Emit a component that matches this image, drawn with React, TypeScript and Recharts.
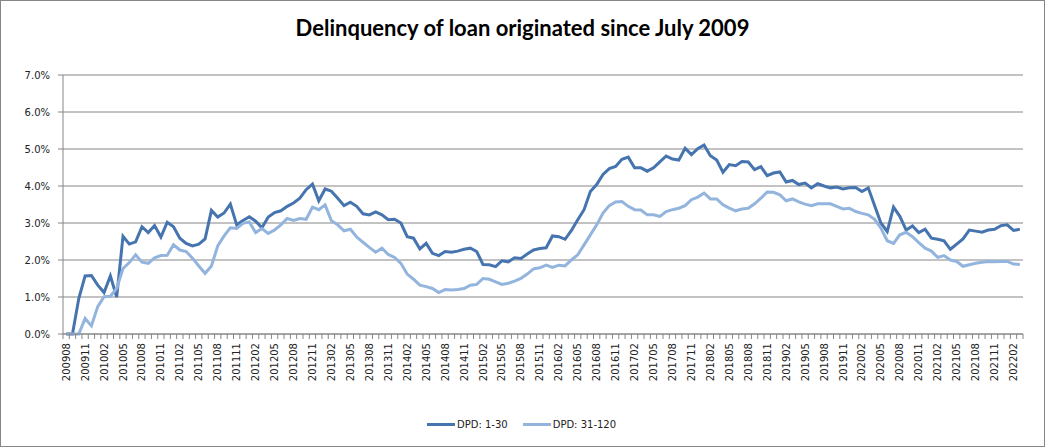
import { LineChart, Line, XAxis, YAxis, CartesianGrid } from 'recharts';

// monthly cohorts 200908 .. 202203
const START_YEAR = 2009;
const START_MONTH = 8;
const N_MONTHS = 152;

const months: string[] = Array.from({ length: N_MONTHS }, (_, i) => {
  const m = START_MONTH - 1 + i;
  const yr = START_YEAR + Math.floor(m / 12);
  const mo = (m % 12) + 1;
  return `${yr}${mo < 10 ? '0' : ''}${mo}`;
});

// values in percent
const dpd1to30 = [
  0, 0, 0.96, 1.57, 1.58, 1.32, 1.12, 1.57, 1.0, 2.64,
  2.43, 2.49, 2.9, 2.74, 2.93, 2.62, 3.02, 2.9, 2.59, 2.45,
  2.38, 2.43, 2.57, 3.34, 3.16, 3.27, 3.51, 2.95, 3.07, 3.17,
  3.05, 2.87, 3.16, 3.28, 3.33, 3.45, 3.54, 3.67, 3.9, 4.05,
  3.6, 3.92, 3.86, 3.67, 3.47, 3.56, 3.45, 3.25, 3.22, 3.3,
  3.22, 3.09, 3.1, 3.0, 2.63, 2.59, 2.3, 2.45, 2.18, 2.12,
  2.23, 2.21, 2.24, 2.29, 2.32, 2.23, 1.88, 1.87, 1.82, 1.98,
  1.95, 2.06, 2.04, 2.16, 2.27, 2.31, 2.33, 2.65, 2.63, 2.56,
  2.8, 3.09, 3.36, 3.85, 4.04, 4.31, 4.47, 4.53, 4.72, 4.78,
  4.49, 4.49, 4.4, 4.49, 4.65, 4.81, 4.73, 4.7, 5.02, 4.85,
  5.01, 5.11, 4.82, 4.7, 4.37, 4.58, 4.55, 4.66, 4.65, 4.44,
  4.52, 4.28, 4.35, 4.38, 4.11, 4.15, 4.04, 4.08, 3.95, 4.06,
  4.0, 3.95, 3.97, 3.92, 3.95, 3.96, 3.85, 3.95, 3.47, 3.0,
  2.77, 3.43, 3.18, 2.81, 2.92, 2.74, 2.83, 2.59, 2.56, 2.52,
  2.29, 2.43, 2.57, 2.81, 2.78, 2.75, 2.81, 2.83, 2.93, 2.95,
  2.8, 2.83,
];

const dpd31to120 = [
  0, 0, 0, 0.42, 0.22, 0.74, 1.01, 1.02, 1.23, 1.77,
  1.93, 2.14, 1.94, 1.91, 2.06, 2.12, 2.13, 2.41, 2.27, 2.23,
  2.05, 1.84, 1.64, 1.84, 2.38, 2.65, 2.87, 2.85, 2.99, 3.03,
  2.74, 2.85, 2.72, 2.81, 2.95, 3.12, 3.07, 3.12, 3.1, 3.43,
  3.36, 3.49, 3.06, 2.95, 2.79, 2.83, 2.62, 2.48, 2.34, 2.21,
  2.32, 2.15, 2.07, 1.91, 1.62, 1.48, 1.32, 1.28, 1.23, 1.12,
  1.2, 1.19, 1.2, 1.23, 1.32, 1.34, 1.5, 1.48, 1.41, 1.34,
  1.37, 1.43, 1.5, 1.62, 1.76, 1.79, 1.86, 1.8, 1.86, 1.84,
  2.0, 2.14, 2.41, 2.68, 2.95, 3.27, 3.47, 3.57, 3.58, 3.45,
  3.36, 3.35, 3.22, 3.22, 3.18, 3.31, 3.36, 3.4, 3.47, 3.63,
  3.7, 3.81, 3.65, 3.65, 3.49, 3.4, 3.33, 3.38, 3.4, 3.52,
  3.67, 3.84, 3.83, 3.76, 3.6, 3.65, 3.57, 3.51, 3.47, 3.52,
  3.52, 3.52, 3.45, 3.38, 3.4, 3.31, 3.26, 3.22, 3.1, 2.86,
  2.52, 2.45, 2.68, 2.75, 2.63, 2.47, 2.32, 2.24, 2.07, 2.12,
  2.0, 1.96, 1.83, 1.87, 1.91, 1.94, 1.96, 1.95, 1.96, 1.96,
  1.89, 1.88,
];

const yTicks = [0, 1, 2, 3, 4, 5, 6, 7];

const data = months.map((m, i) => ({ month: m, a: dpd1to30[i], b: dpd31to120[i] }));

const DARK = '#4674AE';
const LIGHT = '#93B4DD';
const AXIS = '#868686';
const FONT = 'DejaVu Sans, Verdana, sans-serif';

const W = 1045;
const H = 447;
const MARGIN = { top: 75, right: 22, bottom: 33, left: 0 };
const Y_W = 63;
const PLOT_W = W - MARGIN.left - MARGIN.right - Y_W;
const BAND = PLOT_W / N_MONTHS;

const MonthTick = (props: any) => {
  const { x, y, payload } = props;
  const idx = payload?.index ?? props.index ?? 0;
  const half = BAND / 2;
  return (
    <g>
      {idx === 0 && <line x1={x - half} x2={x - half} y1={y} y2={y + 5} stroke={AXIS} />}
      <line x1={x + half} x2={x + half} y1={y} y2={y + 5} stroke={AXIS} />
      {idx % 3 === 0 && (
        <text
          transform={`translate(${x},${y + 9}) rotate(-90)`}
          textAnchor="end"
          dy="0.35em"
          fontSize={10}
          fontFamily={FONT}
          fill="#222"
        >
          {payload.value}
        </text>
      )}
    </g>
  );
};

export default function App() {
  return (
    <div style={{ position: 'absolute', left: 0, top: 0, width: W, height: H, background: '#fff' }}>
      <div
        style={{
          position: 'absolute',
          left: 0,
          top: 15,
          width: W,
          textAlign: 'center',
          fontFamily: 'Lato, sans-serif',
          fontWeight: 700,
          fontSize: 22,
          lineHeight: '26px',
          color: '#000',
        }}
      >
        Delinquency of loan originated since July 2009
      </div>

      <LineChart width={W} height={H} data={data} margin={MARGIN}>
        <CartesianGrid vertical={false} stroke={AXIS} strokeWidth={1} />
        <XAxis
          dataKey="month"
          scale="band"
          interval={0}
          height={80}
          tickSize={0}
          tickMargin={0}
          tickLine={false}
          axisLine={{ stroke: AXIS }}
          tick={<MonthTick />}
        />
        <YAxis
          width={Y_W}
          domain={[0, 7]}
          ticks={yTicks}
          tickFormatter={(v: number) => `${v.toFixed(1)}%`}
          tickSize={5}
          tickMargin={8}
          axisLine={{ stroke: AXIS }}
          tickLine={{ stroke: AXIS }}
          tick={{ fontSize: 10, fontFamily: FONT, fill: '#222' }}
        />
        <Line
          dataKey="a"
          name="DPD: 1-30"
          stroke={DARK}
          strokeWidth={3}
          dot={false}
          isAnimationActive={false}
        />
        <Line
          dataKey="b"
          name="DPD: 31-120"
          stroke={LIGHT}
          strokeWidth={3}
          dot={false}
          isAnimationActive={false}
        />
      </LineChart>

      {/* legend */}
      <div
        style={{
          position: 'absolute',
          top: 419,
          left: 427,
          display: 'flex',
          alignItems: 'center',
          fontFamily: FONT,
          fontSize: 10,
          color: '#222',
        }}
      >
        <span style={{ display: 'inline-block', width: 28, height: 3, background: DARK, marginRight: 2 }} />
        <span style={{ marginRight: 15 }}>DPD: 1-30</span>
        <span style={{ display: 'inline-block', width: 28, height: 3, background: LIGHT, marginRight: 2 }} />
        <span>DPD: 31-120</span>
      </div>

      <div
        style={{
          position: 'absolute',
          left: 0,
          top: 0,
          width: W,
          height: H,
          boxSizing: 'border-box',
          border: `1px solid ${AXIS}`,
          pointerEvents: 'none',
        }}
      />
    </div>
  );
}
